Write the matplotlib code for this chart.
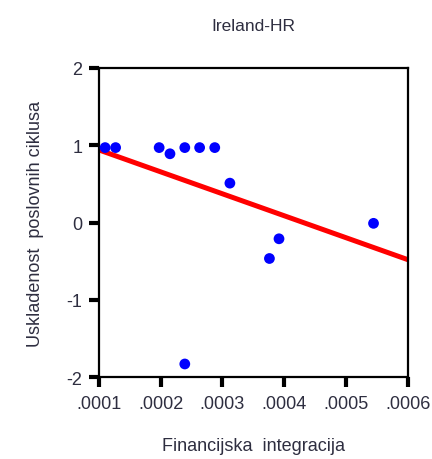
import numpy as np
import matplotlib
matplotlib.use('Agg')
import matplotlib.pyplot as plt

## PODACI ##
fin_integracija = [0.000110, 0.000127, 0.0001975, 0.000215, 0.000239, 0.000263,
                   0.0002875, 0.000312, 0.000376, 0.0003915, 0.0005445, 0.000239]
uskladenost = [0.97, 0.97, 0.97, 0.89, 0.97, 0.97,
               0.97, 0.51, -0.465, -0.21, -0.01, -1.83]
trend_x = [0.0001, 0.0006]
trend_y = [0.94, -0.48]
x_ticks = [0.0001, 0.0002, 0.0003, 0.0004, 0.0005, 0.0006]
x_tick_labels = ['.0001', '.0002', '.0003', '.0004', '.0005', '.0006']
y_ticks = [-2, -1, 0, 1, 2]

plt.rcParams['font.family'] = ['Liberation Sans', 'DejaVu Sans']
plt.rcParams['axes.unicode_minus'] = False
boja_teksta = '#2e2e40'

fig = plt.figure(figsize=(4.32, 4.6), dpi=100)
ax = fig.add_axes([0.229, 0.178, 0.715, 0.672])

ax.plot(trend_x, trend_y, color='#ff0000', linewidth=3.6, solid_capstyle='butt', zorder=2)
ax.scatter(fin_integracija, uskladenost, s=60, color='#0000ff', edgecolors='none', zorder=3)

ax.set_xlim(0.0001, 0.0006)
ax.set_ylim(-2, 2)
ax.set_xticks(x_ticks)
ax.set_xticklabels(x_tick_labels)
ax.set_yticks(y_ticks)

for s in ax.spines.values():
    s.set_linewidth(1.6)
ax.tick_params(direction='out', length=7, width=3, labelsize=13, labelcolor=boja_teksta)
ax.tick_params(axis='x', pad=6)
ax.tick_params(axis='y', pad=5)

ax.set_title('Ireland-HR', fontsize=12.5, color=boja_teksta, pad=27)
ax.set_xlabel('Financijska  integracija', fontsize=13, color=boja_teksta, labelpad=18)
ax.set_ylabel('Uskladenost  poslovnih ciklusa', fontsize=13, color=boja_teksta, labelpad=16)

fig.savefig('out.png', dpi=100)
